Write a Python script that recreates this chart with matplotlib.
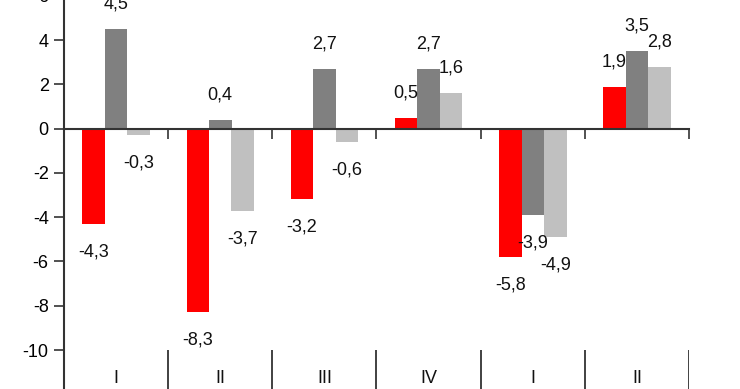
import matplotlib
matplotlib.use("Agg")
import matplotlib.pyplot as plt
import numpy as np

plt.rcParams['font.family'] = ['Liberation Sans', 'DejaVu Sans']

categories = ['I', 'II', 'III', 'IV', 'I', 'II']
red_vals = [-4.3, -8.3, -3.2, 0.5, -5.8, 1.9]
dark_vals = [4.5, 0.4, 2.7, 2.7, -3.9, 3.5]
light_vals = [-0.3, -3.7, -0.6, 1.6, -4.9, 2.8]
yticks = list(range(-10, 7, 2))

colors = ['#ff0000', '#808080', '#c0c0c0']
series = [red_vals, dark_vals, light_vals]

fig = plt.figure(figsize=(7.4, 3.89), dpi=100)
y_lo, y_hi = -11.76, 6.0
# axes extends slightly above the figure so the "6" tick is cut off like the original
ax = fig.add_axes([64 / 740, 0, 625 / 740, 1 + (6 - 5.81) * 22.14 / 389])

x = np.arange(len(categories))
w = 0.216
for i, (vals, c) in enumerate(zip(series, colors)):
    pos = x + (i - 1) * w
    ax.bar(pos, vals, width=w, color=c, zorder=2)
    for px, v in zip(pos, vals):
        off = 25 if v >= 0 else -28
        ax.annotate(f"{v:.1f}".replace('.', ','), (px, v), xytext=(0, off),
                    textcoords='offset pixels', ha='center', va='center',
                    fontsize=13, color='#111111')

ax.set_xlim(-0.5, len(categories) - 0.5)
ax.set_ylim(y_lo, y_hi)

ax.spines[['top', 'right']].set_visible(False)
ax.spines['bottom'].set_position(('data', 0))
for s in ['left', 'bottom']:
    ax.spines[s].set_color('#333333')
    ax.spines[s].set_linewidth(1.5)
    ax.spines[s].set_zorder(3)

ax.set_yticks(yticks)
ax.set_yticklabels([str(t) for t in yticks], fontsize=13)
ax.tick_params(axis='y', direction='out', length=7, width=1.2, color='#333333', pad=4)

bounds = np.arange(len(categories) + 1) - 0.5
ax.set_xticks(bounds)
ax.set_xticklabels([])
ax.tick_params(axis='x', direction='out', length=7, width=1.2, color='#333333')

# lower category separators and labels
ax.vlines(bounds, y_lo, -10, color='#333333', linewidth=1.3)
for xi, lab in zip(x, categories):
    ax.text(xi, -11.27, lab, ha='center', va='center', fontsize=13, color='#111111')

fig.savefig('out.png', dpi=100)
